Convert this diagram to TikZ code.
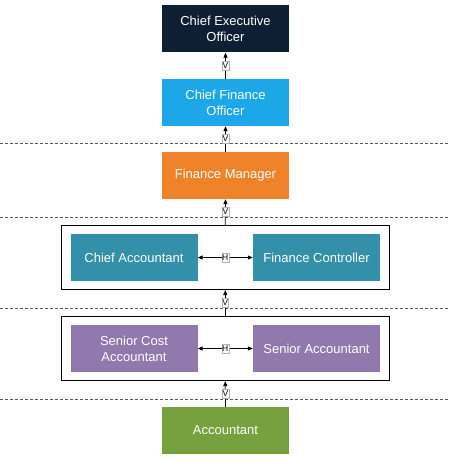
\documentclass[tikz,border=0pt]{standalone}
\usepackage{fontspec}
\setmainfont{Liberation Sans}
\usepackage{tikz}
\usetikzlibrary{arrows.meta,positioning,fit}

\definecolor{ceocol}{HTML}{0F1F33}
\definecolor{cfocol}{HTML}{1BA7E8}
\definecolor{fmcol}{HTML}{F0822A}
\definecolor{tealcol}{HTML}{3490A8}
\definecolor{purplecol}{HTML}{9179AD}
\definecolor{greencol}{HTML}{77A03F}

\tikzset{
  role/.style={minimum width=127pt,minimum height=47pt,inner sep=0pt,
    text=white,align=center,font=\fontsize{13}{16}\selectfont},
  lbl/.style={fill=white,draw=gray!60,inner xsep=0.5pt,inner ysep=1.5pt,line width=0.3pt,
    font=\fontsize{8.5}{8.5}\selectfont},
  up/.style={line width=0.8pt,-{Triangle[length=5pt,width=4pt]}},
  both/.style={line width=0.8pt,{Triangle[length=5pt,width=4pt]}-{Triangle[length=5pt,width=4pt]}},
  sep/.style={gray!70!black,line width=0.7pt,dash pattern=on 3pt off 2pt},
  grp/.style={draw,line width=0.8pt,inner xsep=9pt,inner ysep=8.5pt}
}

\begin{document}
\begin{tikzpicture}[x=1pt,y=-1pt]
  \useasboundingbox (0,0) rectangle (448,462);
  % level lines
  \draw[sep] (0,143) -- (448,143);
  \draw[sep] (0,217) -- (448,217);
  \draw[sep] (0,308) -- (448,308);
  \draw[sep] (0,399) -- (448,399);
  % roles
  \node[role,fill=ceocol] (ceo) at (225.5,29) {Chief Executive\\Officer};
  \node[role,fill=cfocol] (cfo) at (225.5,102.5) {Chief Finance\\Officer};
  \node[role,fill=fmcol] (fm) at (225.5,175.5) {Finance Manager};
  \node[role,fill=tealcol] (ca) at (134,257.5) {Chief Accountant};
  \node[role,fill=tealcol] (fc) at (316.5,257.5) {Finance Controller};
  \node[role,fill=purplecol] (sca) at (134,348.5) {Senior Cost\\Accountant};
  \node[role,fill=purplecol] (sa) at (316.5,348.5) {Senior Accountant};
  \node[role,fill=greencol] (acc) at (225.5,430.5) {Accountant};
  % groups
  \node[grp,fit=(ca)(fc)] (grpa) {};
  \node[grp,fit=(sca)(sa)] (grpb) {};
  % links
  \draw[up] (cfo.north) -- node[lbl] {V} (ceo.south);
  \draw[up] (fm.north) -- node[lbl] {V} (cfo.south);
  \draw[up] (grpa.north) -- node[lbl] {V} (fm.south);
  \draw[up] (grpb.north) -- node[lbl] {V} (grpa.south);
  \draw[up] (acc.north) -- node[lbl] {V} (grpb.south);
  \draw[both] (ca.east) -- node[lbl] {H} (fc.west);
  \draw[both] (sca.east) -- node[lbl] {H} (sa.west);
\end{tikzpicture}
\end{document}
